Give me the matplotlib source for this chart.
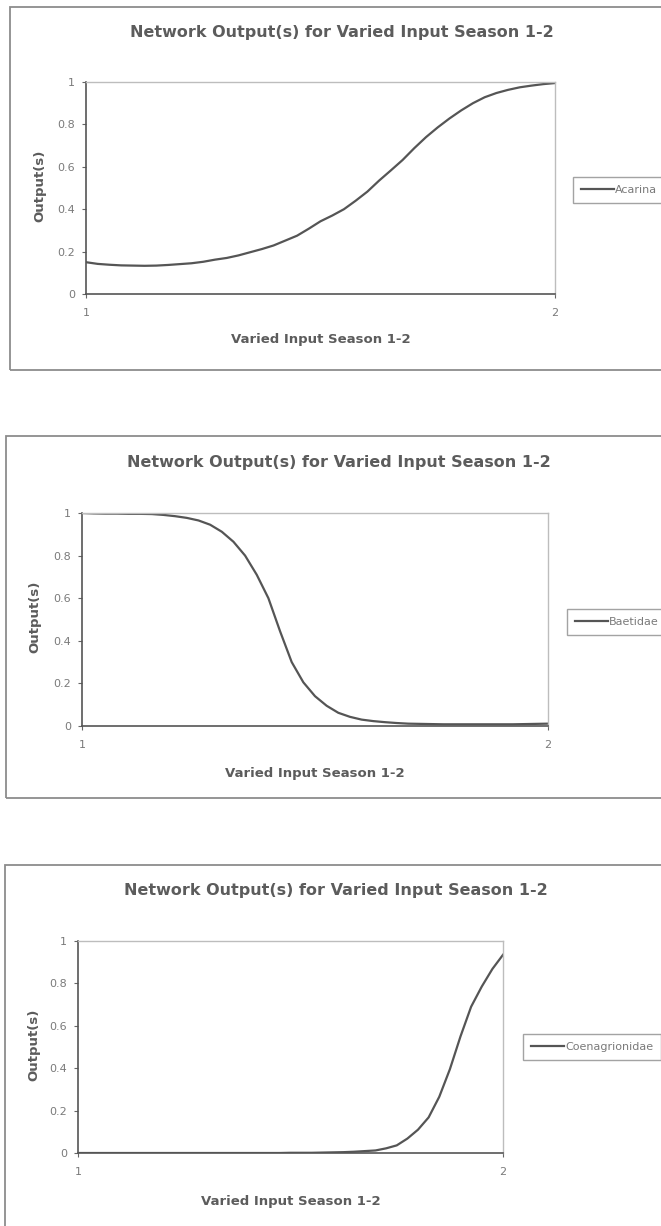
import matplotlib
matplotlib.use("Agg")
import matplotlib.pyplot as plt
from matplotlib.patches import Rectangle

plt.rcParams["font.family"] = ["DejaVu Sans"]

# network response as season input is swept from 1 to 2
varied_input = [1.000, 1.025, 1.050, 1.075, 1.100, 1.125, 1.150, 1.175, 1.200, 1.225,
                1.250, 1.275, 1.300, 1.325, 1.350, 1.375, 1.400, 1.425, 1.450, 1.475,
                1.500, 1.525, 1.550, 1.575, 1.600, 1.625, 1.650, 1.675, 1.700, 1.725,
                1.750, 1.775, 1.800, 1.825, 1.850, 1.875, 1.900, 1.925, 1.950, 1.975,
                2.000]
acarina = [0.150, 0.142, 0.138, 0.135, 0.134, 0.133, 0.134, 0.137, 0.141, 0.145,
           0.152, 0.162, 0.170, 0.182, 0.197, 0.212, 0.229, 0.252, 0.275, 0.308,
           0.343, 0.370, 0.400, 0.440, 0.483, 0.535, 0.583, 0.632, 0.688, 0.740,
           0.786, 0.828, 0.866, 0.900, 0.928, 0.948, 0.963, 0.975, 0.983, 0.990,
           0.995]
baetidae = [1.000, 0.998, 0.997, 0.997, 0.996, 0.996, 0.995, 0.991, 0.985, 0.977,
            0.965, 0.945, 0.912, 0.865, 0.800, 0.710, 0.600, 0.445, 0.300, 0.205,
            0.140, 0.095, 0.062, 0.043, 0.030, 0.023, 0.018, 0.014, 0.011, 0.010,
            0.009, 0.008, 0.008, 0.008, 0.008, 0.008, 0.008, 0.008, 0.009, 0.010,
            0.011]
coenagrionidae = [0.000, 0.000, 0.000, 0.000, 0.000, 0.000, 0.000, 0.000, 0.000, 0.000,
                  0.000, 0.000, 0.000, 0.000, 0.000, 0.000, 0.000, 0.000, 0.000, 0.000,
                  0.001, 0.001, 0.001, 0.002, 0.003, 0.004, 0.006, 0.009, 0.012, 0.022,
                  0.036, 0.068, 0.110, 0.168, 0.265, 0.395, 0.550, 0.690, 0.785, 0.868,
                  0.935]

series_names = ["Acarina", "Baetidae", "Coenagrionidae"]
y_ticks = [0, 0.2, 0.4, 0.6, 0.8, 1]
y_tick_labels = ["0", "0.2", "0.4", "0.6", "0.8", "1"]
x_ticks = [1, 2]
x_tick_labels = ["1", "2"]
title = "Network Output(s) for Varied Input Season 1-2"
x_title = "Varied Input Season 1-2"
y_title = "Output(s)"

W, H = 661, 1226
fig = plt.figure(figsize=(W / 100, H / 100), dpi=100)

TEXT = "#5c5c5c"
TICK = "#7a7a7a"
LINE = "#555555"

# pixel layout of each chart block: outer box, plot area, text anchors
panels = [
    dict(box=(10, 7, 700, 363), plot=(86, 82, 555, 294), title=(342, 32),
         ylab=(40, 186), xlab=340, leg=(573, 190)),
    dict(box=(6, 436, 700, 362), plot=(82, 513, 548, 726), title=(339, 463),
         ylab=(35, 617), xlab=773, leg=(567, 622)),
    dict(box=(5, 865, 700, 400), plot=(78, 941, 503, 1153), title=(336, 891),
         ylab=(34, 1045), xlab=1201, leg=(523, 1047)),
]
curves = [acarina, baetidae, coenagrionidae]

for p, values, name in zip(panels, curves, series_names):
    bx, by, bw, bh = p["box"]
    fig.patches.append(Rectangle((bx / W, 1 - (by + bh) / H), bw / W, bh / H,
                                 transform=fig.transFigure, fill=False,
                                 edgecolor="#8c8c8c", linewidth=1.3))

    l, t, r, b = p["plot"]
    ax = fig.add_axes([l / W, 1 - b / H, (r - l) / W, (b - t) / H])
    line, = ax.plot(varied_input, values, color=LINE, linewidth=1.6, label=name)
    ax.set_xlim(1, 2)
    ax.set_ylim(0, 1)
    ax.set_yticks(y_ticks)
    ax.set_yticklabels(y_tick_labels)
    ax.set_xticks(x_ticks)
    ax.set_xticklabels(x_tick_labels)
    ax.tick_params(axis="both", direction="out", length=3, width=0.8,
                   color="#666666", labelcolor=TICK, labelsize=8, pad=5)
    ax.tick_params(axis="x", pad=7)
    for side in ("left", "bottom"):
        ax.spines[side].set_color("#555555")
        ax.spines[side].set_linewidth(1.2)
    for side in ("top", "right"):
        ax.spines[side].set_color("#bdbdbd")
        ax.spines[side].set_linewidth(1.0)

    tx, ty = p["title"]
    fig.text(tx / W, 1 - ty / H, title, ha="center", va="center",
             fontsize=11.5, fontweight="bold", color=TEXT)
    fig.text((l + r) / 2 / W, 1 - p["xlab"] / H, x_title, ha="center", va="center",
             fontsize=9.5, fontweight="bold", color=TEXT)
    yx, yy = p["ylab"]
    fig.text(yx / W, 1 - yy / H, y_title, ha="center", va="center", rotation=90,
             fontsize=9.5, fontweight="bold", color=TEXT)

    lx, ly = p["leg"]
    leg = fig.legend(handles=[line], loc="center left",
                     bbox_to_anchor=(lx / W, 1 - ly / H), fontsize=8,
                     frameon=True, fancybox=False, handlelength=3.0,
                     handletextpad=0.1, borderpad=0.7, borderaxespad=0)
    leg.get_frame().set_edgecolor("#8c8c8c")
    leg.get_frame().set_linewidth(1.0)
    for txt in leg.get_texts():
        txt.set_color(TICK)

fig.savefig("out.png", dpi=100, facecolor="white")
